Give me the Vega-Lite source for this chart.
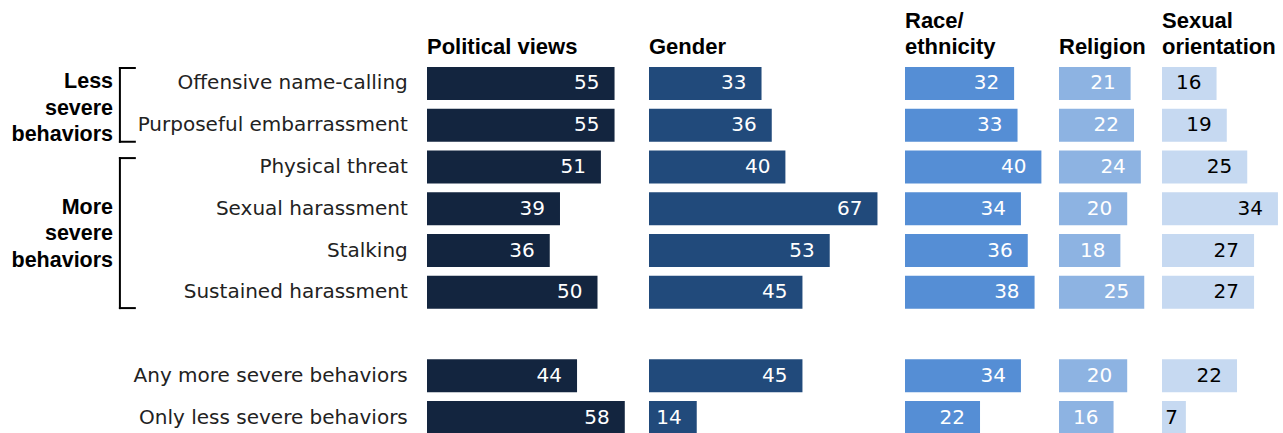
{
  "$schema": "https://vega.github.io/schema/vega-lite/v6.json",
  "padding": {"left": 0, "top": 10, "right": 0, "bottom": 0},
  "autosize": {"type": "pad"},
  "spacing": 0,
  "bounds": "flush",
  "config": {
    "view": {"stroke": null},
    "font": "DejaVu Sans",
    "title": {"anchor": "start", "frame": "group", "font": "Liberation Sans", "fontSize": 22, "fontWeight": "bold", "color": "#000", "offset": 8, "lineHeight": 26}
  },
  "resolve": {"scale": {"x": "independent", "y": "independent"}},
  "datasets": {
    "bars": [
      {"behavior": "Offensive name-calling", "group": "Political views", "value": 55},
      {"behavior": "Purposeful embarrassment", "group": "Political views", "value": 55},
      {"behavior": "Physical threat", "group": "Political views", "value": 51},
      {"behavior": "Sexual harassment", "group": "Political views", "value": 39},
      {"behavior": "Stalking", "group": "Political views", "value": 36},
      {"behavior": "Sustained harassment", "group": "Political views", "value": 50},
      {"behavior": "Any more severe behaviors", "group": "Political views", "value": 44},
      {"behavior": "Only less severe behaviors", "group": "Political views", "value": 58},
      {"behavior": "Offensive name-calling", "group": "Gender", "value": 33},
      {"behavior": "Purposeful embarrassment", "group": "Gender", "value": 36},
      {"behavior": "Physical threat", "group": "Gender", "value": 40},
      {"behavior": "Sexual harassment", "group": "Gender", "value": 67},
      {"behavior": "Stalking", "group": "Gender", "value": 53},
      {"behavior": "Sustained harassment", "group": "Gender", "value": 45},
      {"behavior": "Any more severe behaviors", "group": "Gender", "value": 45},
      {"behavior": "Only less severe behaviors", "group": "Gender", "value": 14},
      {"behavior": "Offensive name-calling", "group": "Race/ethnicity", "value": 32},
      {"behavior": "Purposeful embarrassment", "group": "Race/ethnicity", "value": 33},
      {"behavior": "Physical threat", "group": "Race/ethnicity", "value": 40},
      {"behavior": "Sexual harassment", "group": "Race/ethnicity", "value": 34},
      {"behavior": "Stalking", "group": "Race/ethnicity", "value": 36},
      {"behavior": "Sustained harassment", "group": "Race/ethnicity", "value": 38},
      {"behavior": "Any more severe behaviors", "group": "Race/ethnicity", "value": 34},
      {"behavior": "Only less severe behaviors", "group": "Race/ethnicity", "value": 22},
      {"behavior": "Offensive name-calling", "group": "Religion", "value": 21},
      {"behavior": "Purposeful embarrassment", "group": "Religion", "value": 22},
      {"behavior": "Physical threat", "group": "Religion", "value": 24},
      {"behavior": "Sexual harassment", "group": "Religion", "value": 20},
      {"behavior": "Stalking", "group": "Religion", "value": 18},
      {"behavior": "Sustained harassment", "group": "Religion", "value": 25},
      {"behavior": "Any more severe behaviors", "group": "Religion", "value": 20},
      {"behavior": "Only less severe behaviors", "group": "Religion", "value": 16},
      {"behavior": "Offensive name-calling", "group": "Sexual orientation", "value": 16},
      {"behavior": "Purposeful embarrassment", "group": "Sexual orientation", "value": 19},
      {"behavior": "Physical threat", "group": "Sexual orientation", "value": 25},
      {"behavior": "Sexual harassment", "group": "Sexual orientation", "value": 34},
      {"behavior": "Stalking", "group": "Sexual orientation", "value": 27},
      {"behavior": "Sustained harassment", "group": "Sexual orientation", "value": 27},
      {"behavior": "Any more severe behaviors", "group": "Sexual orientation", "value": 22},
      {"behavior": "Only less severe behaviors", "group": "Sexual orientation", "value": 7}
    ],
    "grouplabels": [
      {"label": "Less\nsevere\nbehaviors", "row": "Purposeful embarrassment"},
      {"label": "More\nsevere\nbehaviors", "row": "Stalking"}
    ],
    "lessBracket": [{"top": "Offensive name-calling", "bottom": "Purposeful embarrassment"}],
    "moreBracket": [{"top": "Physical threat", "bottom": "Sustained harassment"}]
  },
  "hconcat": [
    {
      "width": 426.7,
      "height": 367,
      "layer": [
        {
          "data": {"name": "grouplabels"},
          "mark": {"type": "text", "align": "right", "baseline": "middle", "lineBreak": "\n", "dy": -26.5, "font": "Liberation Sans", "fontWeight": "bold", "fontSize": 21.5, "lineHeight": 26.5, "color": "#000"},
          "encoding": {
            "x": {"datum": 26.5, "type": "quantitative", "scale": {"domain": [0, 100], "nice": false, "zero": false}, "axis": null},
            "y": {"field": "row", "type": "nominal", "bandPosition": 0, "scale": {"domain": ["Offensive name-calling", "Purposeful embarrassment", "Physical threat", "Sexual harassment", "Stalking", "Sustained harassment", " ", "Any more severe behaviors", "Only less severe behaviors"], "paddingInner": 0.2096, "paddingOuter": 0}, "axis": null},
            "text": {"field": "label", "type": "nominal"}
          }
        },
        {
          "data": {"name": "lessBracket"},
          "mark": {"type": "rule", "strokeWidth": 2, "color": "#000", "strokeCap": "square"},
          "encoding": {
            "x": {"datum": 28.1, "type": "quantitative"},
            "y": {"field": "top", "type": "nominal", "bandPosition": 0.03},
            "y2": {"field": "bottom", "bandPosition": 1.0}
          }
        },
        {
          "data": {"name": "lessBracket"},
          "mark": {"type": "rule", "strokeWidth": 2, "color": "#000", "strokeCap": "square"},
          "encoding": {
            "x": {"datum": 28.1, "type": "quantitative"},
            "x2": {"datum": 31.6},
            "y": {"field": "top", "type": "nominal", "bandPosition": 0.03}
          }
        },
        {
          "data": {"name": "lessBracket"},
          "mark": {"type": "rule", "strokeWidth": 2, "color": "#000", "strokeCap": "square"},
          "encoding": {
            "x": {"datum": 28.1, "type": "quantitative"},
            "x2": {"datum": 31.6},
            "y": {"field": "bottom", "type": "nominal", "bandPosition": 1.0}
          }
        },
        {
          "data": {"name": "moreBracket"},
          "mark": {"type": "rule", "strokeWidth": 2, "color": "#000", "strokeCap": "square"},
          "encoding": {
            "x": {"datum": 28.1, "type": "quantitative"},
            "y": {"field": "top", "type": "nominal", "bandPosition": 0.23},
            "y2": {"field": "bottom", "bandPosition": 0.98}
          }
        },
        {
          "data": {"name": "moreBracket"},
          "mark": {"type": "rule", "strokeWidth": 2, "color": "#000", "strokeCap": "square"},
          "encoding": {
            "x": {"datum": 28.1, "type": "quantitative"},
            "x2": {"datum": 31.6},
            "y": {"field": "top", "type": "nominal", "bandPosition": 0.23}
          }
        },
        {
          "data": {"name": "moreBracket"},
          "mark": {"type": "rule", "strokeWidth": 2, "color": "#000", "strokeCap": "square"},
          "encoding": {
            "x": {"datum": 28.1, "type": "quantitative"},
            "x2": {"datum": 31.6},
            "y": {"field": "bottom", "type": "nominal", "bandPosition": 0.98}
          }
        }
      ]
    },
    {
      "width": 221.65,
      "height": 367,
      "title": {"text": "Political views"},
      "data": {"name": "bars"},
      "transform": [{"filter": "datum.group === 'Political views'"}],
      "encoding": {
        "y": {"field": "behavior", "type": "nominal", "scale": {"domain": ["Offensive name-calling", "Purposeful embarrassment", "Physical threat", "Sexual harassment", "Stalking", "Sustained harassment", " ", "Any more severe behaviors", "Only less severe behaviors"], "paddingInner": 0.2096, "paddingOuter": 0},
          "axis": {"title": null, "ticks": false, "tickSize": 0, "domain": false, "labelPadding": 19.7, "labelFont": "DejaVu Sans", "labelFontSize": 20, "labelColor": "#222", "labelLimit": 500}},
        "x": {"field": "value", "type": "quantitative", "scale": {"domain": [0, 65], "nice": false}, "axis": null}
      },
      "layer": [
        {"mark": {"type": "bar", "color": "#13253F"}},
        {"mark": {"type": "text", "align": "right", "baseline": "middle", "dx": -15, "font": "DejaVu Sans", "fontSize": 20, "color": "#FFFFFF"}, "encoding": {"text": {"field": "value", "type": "quantitative"}}}
      ]
    },
    {
      "width": 255.75,
      "height": 367,
      "title": {"text": "Gender"},
      "data": {"name": "bars"},
      "transform": [{"filter": "datum.group === 'Gender'"}],
      "encoding": {
        "y": {"field": "behavior", "type": "nominal", "scale": {"domain": ["Offensive name-calling", "Purposeful embarrassment", "Physical threat", "Sexual harassment", "Stalking", "Sustained harassment", " ", "Any more severe behaviors", "Only less severe behaviors"], "paddingInner": 0.2096, "paddingOuter": 0}, "axis": null},
        "x": {"field": "value", "type": "quantitative", "scale": {"domain": [0, 75], "nice": false}, "axis": null}
      },
      "layer": [
        {"mark": {"type": "bar", "color": "#214A7B"}},
        {"mark": {"type": "text", "align": "right", "baseline": "middle", "dx": -15, "font": "DejaVu Sans", "fontSize": 20, "color": "#FFFFFF"}, "encoding": {"text": {"field": "value", "type": "quantitative"}}}
      ]
    },
    {
      "width": 153.45,
      "height": 367,
      "title": {"text": ["Race/", "ethnicity"]},
      "data": {"name": "bars"},
      "transform": [{"filter": "datum.group === 'Race/ethnicity'"}],
      "encoding": {
        "y": {"field": "behavior", "type": "nominal", "scale": {"domain": ["Offensive name-calling", "Purposeful embarrassment", "Physical threat", "Sexual harassment", "Stalking", "Sustained harassment", " ", "Any more severe behaviors", "Only less severe behaviors"], "paddingInner": 0.2096, "paddingOuter": 0}, "axis": null},
        "x": {"field": "value", "type": "quantitative", "scale": {"domain": [0, 45], "nice": false}, "axis": null}
      },
      "layer": [
        {"mark": {"type": "bar", "color": "#558ED5"}},
        {"mark": {"type": "text", "align": "right", "baseline": "middle", "dx": -15, "font": "DejaVu Sans", "fontSize": 20, "color": "#FFFFFF"}, "encoding": {"text": {"field": "value", "type": "quantitative"}}}
      ]
    },
    {
      "width": 102.3,
      "height": 367,
      "title": {"text": "Religion"},
      "data": {"name": "bars"},
      "transform": [{"filter": "datum.group === 'Religion'"}],
      "encoding": {
        "y": {"field": "behavior", "type": "nominal", "scale": {"domain": ["Offensive name-calling", "Purposeful embarrassment", "Physical threat", "Sexual harassment", "Stalking", "Sustained harassment", " ", "Any more severe behaviors", "Only less severe behaviors"], "paddingInner": 0.2096, "paddingOuter": 0}, "axis": null},
        "x": {"field": "value", "type": "quantitative", "scale": {"domain": [0, 30], "nice": false}, "axis": null}
      },
      "layer": [
        {"mark": {"type": "bar", "color": "#8DB3E2"}},
        {"mark": {"type": "text", "align": "right", "baseline": "middle", "dx": -15, "font": "DejaVu Sans", "fontSize": 20, "color": "#FFFFFF"}, "encoding": {"text": {"field": "value", "type": "quantitative"}}}
      ]
    },
    {
      "width": 119.35,
      "height": 367,
      "title": {"text": ["Sexual", "orientation"]},
      "data": {"name": "bars"},
      "transform": [{"filter": "datum.group === 'Sexual orientation'"}],
      "encoding": {
        "y": {"field": "behavior", "type": "nominal", "scale": {"domain": ["Offensive name-calling", "Purposeful embarrassment", "Physical threat", "Sexual harassment", "Stalking", "Sustained harassment", " ", "Any more severe behaviors", "Only less severe behaviors"], "paddingInner": 0.2096, "paddingOuter": 0}, "axis": null},
        "x": {"field": "value", "type": "quantitative", "scale": {"domain": [0, 35], "nice": false}, "axis": null}
      },
      "layer": [
        {"mark": {"type": "bar", "color": "#C6D9F1"}},
        {"transform": [{"filter": "datum.value >= 10"}], "mark": {"type": "text", "align": "right", "baseline": "middle", "dx": -15, "font": "DejaVu Sans", "fontSize": 20, "color": "#000000"}, "encoding": {"text": {"field": "value", "type": "quantitative"}}},
        {"transform": [{"filter": "datum.value < 10"}], "mark": {"type": "text", "align": "right", "baseline": "middle", "dx": -8, "font": "DejaVu Sans", "fontSize": 20, "color": "#000000"}, "encoding": {"text": {"field": "value", "type": "quantitative"}}}
      ]
    }
  ]
}
